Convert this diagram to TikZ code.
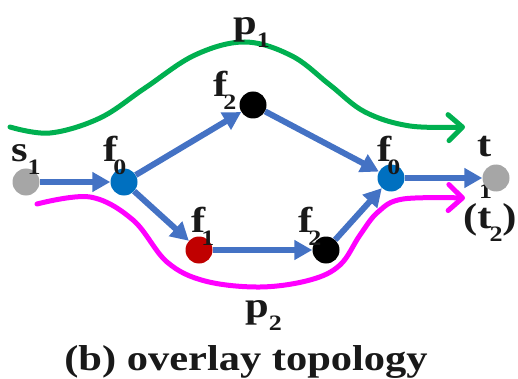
\documentclass[tikz,border=0pt]{standalone}
\usepackage{fontspec}
\setmainfont{Liberation Serif}[FakeStretch=1.18]
\usetikzlibrary{arrows.meta}
\definecolor{nodeblue}{HTML}{0070C0}
\definecolor{arrblue}{HTML}{4472C4}
\definecolor{pgreen}{HTML}{00B050}
\definecolor{pmag}{HTML}{FF00FF}
\definecolor{ngray}{HTML}{A6A6A6}
\definecolor{nred}{HTML}{C00000}
\newcommand{\sublab}[3][0pt]{#2\kern#1\raisebox{-13pt}{\fontsize{22}{22}\selectfont #3}}
\begin{document}
\begin{tikzpicture}[x=1pt,y=-1pt,
  vert/.style={circle, inner sep=0pt, minimum size=27pt},
  lab/.style={anchor=base west, inner sep=0pt, text=black!90, font=\fontsize{36}{40}\selectfont\bfseries},
  link/.style={draw=arrblue, line width=6pt, -{Triangle[length=18pt,width=19pt]}},
  ovpath/.style={line width=5pt, line cap=round, -{Straight Barb[length=14pt,width=26pt,round]}}]
\useasboundingbox (0,0) rectangle (518,379);
% overlay paths
\draw[ovpath, draw=pgreen] plot[smooth, tension=0.6] coordinates {(10,127) (50,133) (100,118) (145,88) (195,55) (245,42) (292,56) (330,85) (365,112) (410,126) (465,127)};
\draw[ovpath, draw=pmag] plot[smooth, tension=0.6] coordinates {(37,204) (90,197) (133,220) (167,262) (205,281) (260,287) (310,280) (340,265) (360,235) (378,212) (403,199) (465,198)};
% label behind the sink vertex
\node[lab, font=\fontsize{22}{22}\selectfont\bfseries] (lt1) at (479,198) {1};
% vertices
\node[vert, fill=ngray] (s1) at (26,182) {};
\node[vert, fill=nodeblue] (f0a) at (124,182) {};
\node[vert, fill=black] (f2a) at (253,105) {};
\node[vert, fill=nred] (f1) at (199,250) {};
\node[vert, fill=black] (f2b) at (326,250) {};
\node[vert, fill=nodeblue] (f0b) at (391,178) {};
\node[vert, fill=ngray] (t) at (496,178) {};
% links
\draw[link] (s1) -- (f0a);
\draw[link] (f0a) -- (f2a);
\draw[link] (f0a) -- (f1);
\draw[link] (f1) -- (f2b);
\draw[link] (f2b) -- (f0b);
\draw[link] (f2a) -- (f0b);
\draw[link] (f0b) -- (t);
% labels
\node[lab] (ls1) at (11,162) {\sublab{s}{1}};
\node[lab] (lf0a) at (103,162) {\sublab[-4pt]{f}{0}};
\node[lab] (lf2a) at (213,97) {\sublab[-4pt]{f}{2}};
\node[lab] (lp1) at (233,35) {\sublab{p}{1}};
\node[lab] (lf1) at (191,232) {\sublab[-4pt]{f}{1}};
\node[lab] (lf2b) at (298,232) {\sublab[-4pt]{f}{2}};
\node[lab] (lf0b) at (377,162) {\sublab[-4pt]{f}{0}};
\node[lab] (lt) at (477,157) {t};
\node[lab] (lt2) at (463,228) {(\sublab[-2pt]{t}{2})};
\node[lab] (lp2) at (245,317) {\sublab{p}{2}};
\node[lab, anchor=base] (cap) at (246,370) {(b) overlay topology};
\end{tikzpicture}
\end{document}
